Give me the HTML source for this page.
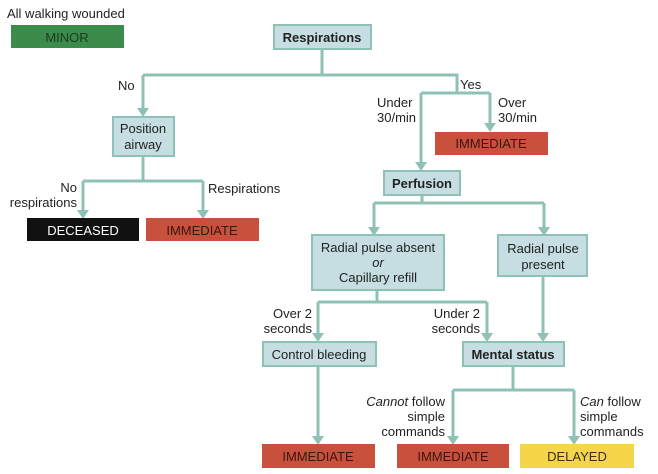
<!DOCTYPE html>
<html><head><meta charset="utf-8"><style>
html,body{margin:0;padding:0;background:#fff;}
svg{display:block;font-family:"Liberation Sans",sans-serif;}
</style></head><body>
<svg width="658" height="474" viewBox="0 0 658 474" xmlns="http://www.w3.org/2000/svg">
<defs>
<marker id="a" markerWidth="8" markerHeight="8" refX="4" refY="6" orient="auto" markerUnits="userSpaceOnUse">
</marker>
</defs>
<g stroke="#8fc2b6" stroke-width="3" fill="none">
<path d="M322 49V75M143 75H457V93M421 93H490"/>
<path d="M143 75V110M421 93V164M490 93V125"/>
<path d="M143 156V181M83 181H203M83 181V212M203 181V212"/>
<path d="M422 195V203M374 203H544M374 203V229M544 203V229"/>
<path d="M377 290V302M318 302H487M318 302V335M487 302V335"/>
<path d="M543 276V335M318 366V438M513 366V390M453 390H574M453 390V438M574 390V438"/>
</g>
<g fill="#8fc2b6">
<polygon points="137,108 149,108 143,117"/>
<polygon points="415,162 427,162 421,171"/>
<polygon points="484,123 496,123 490,132"/>
<polygon points="77,210 89,210 83,219"/>
<polygon points="197,210 209,210 203,219"/>
<polygon points="368,227 380,227 374,236"/>
<polygon points="538,227 550,227 544,236"/>
<polygon points="312,333 324,333 318,342"/>
<polygon points="481,333 493,333 487,342"/>
<polygon points="537,333 549,333 543,342"/>
<polygon points="312,436 324,436 318,445"/>
<polygon points="447,436 459,436 453,445"/>
<polygon points="568,436 580,436 574,445"/>
</g>
<g fill="#c6dde2" stroke="#8fc2b6" stroke-width="2">
<rect x="274" y="25" width="97" height="24"/>
<rect x="113" y="117" width="61" height="39"/>
<rect x="384" y="171" width="76" height="24"/>
<rect x="312" y="235" width="132" height="55"/>
<rect x="498" y="235" width="89" height="41"/>
<rect x="263" y="342" width="113" height="24"/>
<rect x="463" y="342" width="101" height="24"/>
</g>
<rect x="11" y="25" width="113" height="23" fill="#3b8c4a"/>
<rect x="27" y="218" width="112" height="23" fill="#111"/>
<rect x="146" y="218" width="113" height="23" fill="#c9503c"/>
<rect x="435" y="132" width="113" height="23" fill="#c9503c"/>
<rect x="262" y="444" width="113" height="24" fill="#c9503c"/>
<rect x="397" y="444" width="112" height="24" fill="#c9503c"/>
<rect x="520" y="444" width="114" height="24" fill="#f5d54a"/>
<g font-size="13" fill="#222">
<text x="7" y="18">All walking wounded</text>
<text x="67" y="42" text-anchor="middle" fill="#1a3a1e">MINOR</text>
<text x="322" y="42" text-anchor="middle" font-weight="bold">Respirations</text>
<text x="118" y="90">No</text>
<text x="460" y="89">Yes</text>
<text x="377" y="107">Under</text><text x="377" y="122">30/min</text>
<text x="498" y="107">Over</text><text x="498" y="122">30/min</text>
<text x="491" y="148" text-anchor="middle" fill="#3a1510">IMMEDIATE</text>
<text x="143" y="133" text-anchor="middle">Position</text>
<text x="143" y="149" text-anchor="middle">airway</text>
<text x="77" y="192" text-anchor="end">No</text>
<text x="77" y="207" text-anchor="end">respirations</text>
<text x="208" y="193">Respirations</text>
<text x="83" y="235" text-anchor="middle" fill="#fff">DECEASED</text>
<text x="202" y="235" text-anchor="middle" fill="#3a1510">IMMEDIATE</text>
<text x="422" y="188" text-anchor="middle" font-weight="bold">Perfusion</text>
<text x="378" y="252" text-anchor="middle">Radial pulse absent</text>
<text x="378" y="267" text-anchor="middle" font-style="italic">or</text>
<text x="378" y="282" text-anchor="middle">Capillary refill</text>
<text x="543" y="253" text-anchor="middle">Radial pulse</text>
<text x="543" y="269" text-anchor="middle">present</text>
<text x="312" y="318" text-anchor="end">Over 2</text>
<text x="312" y="333" text-anchor="end">seconds</text>
<text x="480" y="318" text-anchor="end">Under 2</text>
<text x="480" y="333" text-anchor="end">seconds</text>
<text x="319" y="359" text-anchor="middle">Control bleeding</text>
<text x="513" y="359" text-anchor="middle" font-weight="bold">Mental status</text>
<text x="445" y="406" text-anchor="end"><tspan font-style="italic">Cannot</tspan> follow</text>
<text x="445" y="421" text-anchor="end">simple</text>
<text x="445" y="436" text-anchor="end">commands</text>
<text x="580" y="406"><tspan font-style="italic">Can</tspan> follow</text>
<text x="580" y="421">simple</text>
<text x="580" y="436">commands</text>
<text x="318" y="461" text-anchor="middle" fill="#3a1510">IMMEDIATE</text>
<text x="453" y="461" text-anchor="middle" fill="#3a1510">IMMEDIATE</text>
<text x="577" y="461" text-anchor="middle" fill="#3a3010">DELAYED</text>
</g>
</svg>
</body></html>
